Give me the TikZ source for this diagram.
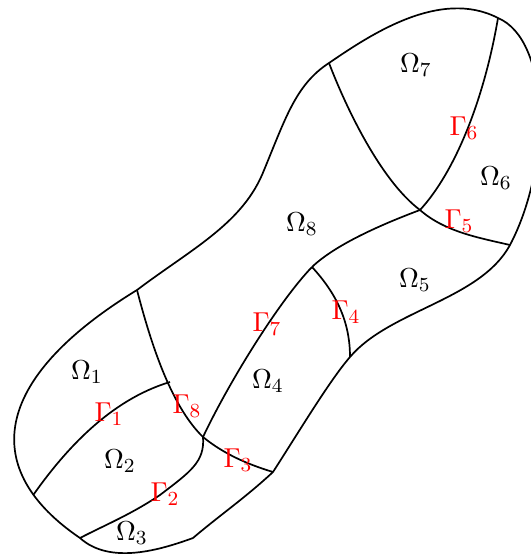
\documentclass[tikz,border=0pt]{standalone}
\begin{document}
\begin{tikzpicture}[x=0.4pt,y=-0.4pt,
  curve/.style={line width=0.68pt, black},
  dom/.style={font=\fontsize{10.95}{13.6}\selectfont, inner sep=0.5pt},
  iface/.style={font=\fontsize{10.95}{13.6}\selectfont, text=red, inner sep=0.3pt}]
\useasboundingbox (0,0) rectangle (531,559);
% points on the curves
\coordinate (P1) at (329,63);
\coordinate (P2) at (498,18);
\coordinate (P3) at (510,245);
\coordinate (P4) at (350,357);
\coordinate (P5) at (273,472);
\coordinate (P6) at (193,538);
\coordinate (P7) at (80,538);
\coordinate (P8) at (137,290);
\coordinate (P9) at (262,175);
\coordinate (Q1) at (33.4,494.8);
\coordinate (A) at (203,437);
\coordinate (B) at (312,267);
\coordinate (C) at (420,210);
\coordinate (D) at (170,382);
% outer boundary
\draw[curve] (P1) .. controls (370,35) and (440,-12) .. (P2)
  .. controls (550,40) and (552,165) .. (P3)
  .. controls (480,300) and (390,310) .. (P4)
  .. controls (330,380) and (300,430) .. (P5)
  .. controls (245,498) and (220,515) .. (P6)
  .. controls (160,550) and (110,565) .. (P7)
  .. controls (-20,470) and (-10,380) .. (P8)
  .. controls (190,250) and (240,225) .. (P9)
  .. controls (285,120) and (295,85) .. (P1) -- cycle;
% interfaces
\draw[curve] (P1) .. controls (345,105) and (380,180) .. (C);
\draw[curve] (C) .. controls (455,172) and (484,100) .. (P2);
\draw[curve] (C) .. controls (445,232) and (480,238) .. (P3);
\draw[curve] (C) .. controls (380,225) and (335,245) .. (B);
\draw[curve] (B) .. controls (335,292) and (350,320) .. (P4);
\draw[curve] (B) .. controls (280,300) and (230,380) .. (A);
\draw[curve] (A) .. controls (225,455) and (250,465) .. (P5);
\draw[curve] (P8) .. controls (150,340) and (170,405) .. (A);
\draw[curve] (A) .. controls (205,462) and (190,472) .. (160,495)
  .. controls (130,515) and (105,525) .. (P7);
\draw[curve] (Q1) .. controls (65,450) and (110,400) .. (D);
% domain labels
\node[dom] (o1) at (87,372) {$\Omega_1$};
\node[dom] (o2) at (120,461) {$\Omega_2$};
\node[dom] (o3) at (132,533) {$\Omega_3$};
\node[dom] (o4) at (268,381) {$\Omega_4$};
\node[dom] (o5) at (415,280) {$\Omega_5$};
\node[dom] (o6) at (496,178) {$\Omega_6$};
\node[dom] (o7) at (416,65) {$\Omega_7$};
\node[dom] (o8) at (302,224) {$\Omega_8$};
% interface labels
\node[iface] (g1) at (109,414) {$\Gamma_1$};
\node[iface] (g2) at (165,494) {$\Gamma_2$};
\node[iface] (g3) at (238,460) {$\Gamma_3$};
\node[iface] (g4) at (346,312) {$\Gamma_4$};
\node[iface] (g5) at (459,221) {$\Gamma_5$};
\node[iface] (g6) at (464,128) {$\Gamma_6$};
\node[iface] (g7) at (267,324) {$\Gamma_7$};
\node[iface] (g8) at (187,406) {$\Gamma_8$};
\end{tikzpicture}
\end{document}
